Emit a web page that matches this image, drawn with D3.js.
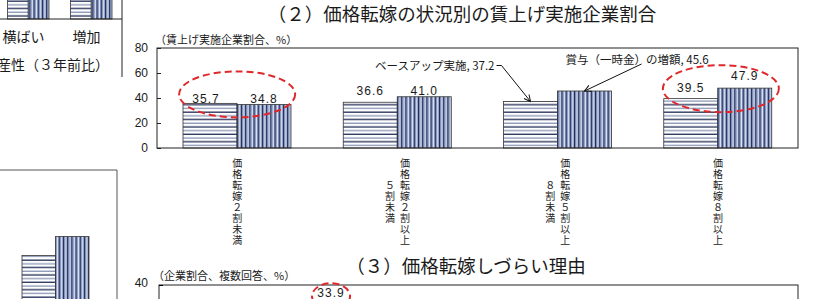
<!DOCTYPE html>
<html lang="ja">
<head>
<meta charset="utf-8">
<title>価格転嫁の状況別の賃上げ実施企業割合</title>
<script src="https://d3js.org/d3.v7.min.js"></script>
<style>
  body { margin: 0; background: #fff; }
  svg { display: block; }
  text { font-family: "Noto Sans CJK JP", sans-serif; fill: #1a1a1a; }
  .num { font-family: "Liberation Sans", Arial, sans-serif; }
</style>
</head>
<body>
<div id="chart"></div>
<script>
// ---- data ----
// main chart (2): price pass-through categories
var categories = ["価格転嫁２割未満", "価格転嫁２割以上５割未満", "価格転嫁５割以上８割未満", "価格転嫁８割以上"];
// how each category label is broken into vertical columns (right column first)
var categoryColumns = [["価格転嫁２割未満"], ["価格転嫁２割以上", "５割未満"], ["価格転嫁５割以上", "８割未満"], ["価格転嫁８割以上"]];
var seriesNames = ["ベースアップ実施", "賞与（一時金）の増額"];
var baseUp = [35.7, 36.6, 37.2, 39.5];
var bonus = [34.8, 41.0, 45.6, 47.9];
var yTicks = [0, 20, 40, 60, 80];

// partial chart at top left (cut off)
var leftTopCats = ["減少", "横ばい", "増加"];
var leftTopA = [24.0, 22.0, 26.0];
var leftTopB = [27.0, 25.0, 30.0];

// partial chart at bottom left (cut off)
var leftBottomA = [21.0];
var leftBottomB = [25.2];

// chart (3): only the top is visible
var reasonTicks = [40];
var reasonSlots = 13;
var reasonValue = 33.9;
var reasonIndex = 3;

var W = 834, H = 299;

var svg = d3.select("#chart").append("svg")
  .attr("width", W)
  .attr("height", H);

// patterns for the two series
var defs = svg.append("defs");
var ph = defs.append("pattern").attr("id", "hstripe")
  .attr("patternUnits", "userSpaceOnUse").attr("width", 8).attr("height", 7.4);
ph.append("rect").attr("width", 8).attr("height", 7.4).attr("fill", "#fff");
ph.append("rect").attr("y", 0.5).attr("width", 8).attr("height", 1.3).attr("fill", "#1f2b55");
ph.append("rect").attr("y", 4.2).attr("width", 8).attr("height", 1.3).attr("fill", "#8a97b6");

var pv = defs.append("pattern").attr("id", "vstripe")
  .attr("patternUnits", "userSpaceOnUse").attr("width", 4.2).attr("height", 8);
pv.append("rect").attr("width", 4.2).attr("height", 8).attr("fill", "#8d9dc6");
pv.append("rect").attr("x", 0).attr("width", 1).attr("height", 8).attr("fill", "#1f2b55");
pv.append("rect").attr("x", 2.4).attr("width", 0.8).attr("height", 8).attr("fill", "#f2f4fa");

var fills = ["url(#hstripe)", "url(#vstripe)"];

defs.append("marker").attr("id", "arrow")
  .attr("viewBox", "0 0 10 10").attr("refX", 9).attr("refY", 5)
  .attr("markerWidth", 8).attr("markerHeight", 8)
  .attr("markerUnits", "userSpaceOnUse")
  .attr("orient", "auto")
  .append("path").attr("d", "M1,1 L9,5 L1,9")
  .attr("fill", "none").attr("stroke", "#111").attr("stroke-width", 1.3);

// ---- main chart (2) ----
var plotL = 157, plotR = 798, plotT = 48, plotB = 148;

var x0 = d3.scaleBand().domain(categories).range([plotL, plotR]);
var x1 = d3.scaleBand().domain(seriesNames).range([26, 134]);
var y = d3.scaleLinear().domain([0, 80]).range([plotB, plotT]);

var rows = categories.map(function(c, i) {
  return { cat: c, vals: [baseUp[i], bonus[i]] };
});

svg.append("text")
  .attr("x", 462).attr("y", 21)
  .attr("text-anchor", "middle")
  .style("font-size", "18.5px")
  .text("（２）価格転嫁の状況別の賃上げ実施企業割合");

svg.append("text")
  .attr("x", 155).attr("y", 44)
  .style("font-size", "11px")
  .text("（賃上げ実施企業割合、%）");

// bars
var groups = svg.selectAll("g.grp")
  .data(rows).enter().append("g")
  .attr("class", "grp")
  .attr("transform", function(d) { return "translate(" + x0(d.cat) + ",0)"; });

groups.selectAll("rect")
  .data(function(d) { return d.vals.map(function(v, j) { return { s: seriesNames[j], v: v, j: j }; }); })
  .enter().append("rect")
  .attr("x", function(d) { return x1(d.s); })
  .attr("y", function(d) { return y(d.v); })
  .attr("width", x1.bandwidth())
  .attr("height", function(d) { return plotB - y(d.v); })
  .attr("fill", function(d) { return fills[d.j]; })
  .attr("stroke", "#333")
  .attr("stroke-width", 0.8);

// frame
svg.append("rect")
  .attr("x", plotL).attr("y", plotT)
  .attr("width", plotR - plotL).attr("height", plotB - plotT)
  .attr("fill", "none").attr("stroke", "#222").attr("stroke-width", 1);

// y axis
var yAxis = svg.append("g")
  .attr("transform", "translate(" + plotL + ",0)")
  .call(d3.axisLeft(y).tickValues(yTicks).tickSizeInner(-4).tickSizeOuter(0).tickPadding(9));
yAxis.select(".domain").remove();
yAxis.selectAll("line").attr("stroke", "#222");
yAxis.selectAll("text")
  .style("font-size", "12px")
  .style("font-family", "'Liberation Sans', Arial, sans-serif")
  .attr("fill", "#1a1a1a");

// data labels (manual lifts/shifts as placed in the original)
var labelLift = [[0, 1.5], [7, 2], null, [6.6, 8]];
var labelShift = [[-4, 0], [0, 0], null, [0, 0]];
rows.forEach(function(d, i) {
  if (!labelLift[i]) return;
  d.vals.forEach(function(v, j) {
    svg.append("text")
      .attr("class", "num")
      .attr("x", x0(d.cat) + x1(seriesNames[j]) + x1.bandwidth() / 2 + labelShift[i][j])
      .attr("y", y(v) - labelLift[i][j])
      .attr("text-anchor", "middle")
      .style("font-size", "12px")
      .style("letter-spacing", "1px")
      .text(v.toFixed(1));
  });
});

// callouts for category 3
var c3 = categories[2];
var tipA = [x0(c3) + x1(seriesNames[0]) + x1.bandwidth() / 2, y(baseUp[2])];
var tipB = [x0(c3) + x1(seriesNames[1]) + x1.bandwidth() / 2, y(bonus[2])];

svg.append("text")
  .attr("x", tipA[0] - 36).attr("y", tipA[1] - 32)
  .attr("text-anchor", "end")
  .style("font-size", "11.5px")
  .text(seriesNames[0] + ", " + baseUp[2].toFixed(1));
svg.append("path")
  .attr("d", "M" + (tipA[0] - 34) + "," + (tipA[1] - 36) + " H" + (tipA[0] - 29) + " L" + tipA[0] + "," + tipA[1])
  .attr("fill", "none").attr("stroke", "#111").attr("stroke-width", 1)
  .attr("marker-end", "url(#arrow)");

svg.append("text")
  .attr("x", tipB[0] - 19).attr("y", tipB[1] - 27)
  .style("font-size", "11.5px")
  .text(seriesNames[1] + ", " + bonus[2].toFixed(1));
svg.append("path")
  .attr("d", "M" + (tipB[0] + 57) + "," + (tipB[1] - 27) + " L" + tipB[0] + "," + tipB[1])
  .attr("fill", "none").attr("stroke", "#111").attr("stroke-width", 1)
  .attr("marker-end", "url(#arrow)");

// vertical category labels
var charStep = 11.1, firstRow = plotB + 14, colGap = 7.5;
categoryColumns.forEach(function(cols, i) {
  var cx = x0(categories[i]) + x0.bandwidth() / 2;
  var n0 = cols[0].length;
  cols.forEach(function(col, k) {
    var colX = cols.length === 1 ? cx : (k === 0 ? cx + colGap : cx - colGap);
    var start = (n0 - col.length) / 2;
    Array.from(col).forEach(function(ch, r) {
      svg.append("text")
        .attr("x", colX)
        .attr("y", firstRow + (start + r) * charStep)
        .attr("text-anchor", "middle")
        .attr("dominant-baseline", "central")
        .style("font-size", "10px")
        .text(ch);
    });
  });
});

// red dashed ellipses
var ellipses = [
  { cat: 0, dx: 0, dy: -9, rx: 58, ry: 23 },
  { cat: 3, dx: 3, dy: 0.5, rx: 58, ry: 23.5 }
];
ellipses.forEach(function(e) {
  var c = categories[e.cat];
  svg.append("ellipse")
    .attr("cx", x0(c) + x0.bandwidth() / 2 + e.dx)
    .attr("cy", y(Math.max(baseUp[e.cat], bonus[e.cat])) + e.dy)
    .attr("rx", e.rx).attr("ry", e.ry)
    .attr("fill", "none")
    .attr("stroke", "#e0282c").attr("stroke-width", 2)
    .attr("stroke-dasharray", "7,4");
});

// ---- chart (3), top part ----
var l3 = 159, t3 = 285;
var y3 = d3.scaleLinear().domain([0, 40]).range([t3 + 100, t3]);
var xr = d3.scaleBand().domain(d3.range(reasonSlots)).range([l3, plotR]);

svg.append("text")
  .attr("x", 466).attr("y", 273)
  .attr("text-anchor", "middle")
  .style("font-size", "18.5px")
  .text("（３）価格転嫁しづらい理由");

svg.append("text")
  .attr("x", 153).attr("y", 280)
  .style("font-size", "11px")
  .text("（企業割合、複数回答、%）");

svg.append("rect")
  .attr("x", l3).attr("y", t3)
  .attr("width", plotR - l3).attr("height", 120)
  .attr("fill", "none").attr("stroke", "#222").attr("stroke-width", 1);

var y3Axis = svg.append("g")
  .attr("transform", "translate(" + l3 + ",0)")
  .call(d3.axisLeft(y3).tickValues(reasonTicks).tickSizeInner(-4).tickSizeOuter(0).tickPadding(11));
y3Axis.select(".domain").remove();
y3Axis.selectAll("text")
  .style("font-size", "12px")
  .style("font-family", "'Liberation Sans', Arial, sans-serif")
  .attr("fill", "#1a1a1a")
  .attr("dy", "0.15em");

var rx3 = xr(reasonIndex) + xr.bandwidth() / 2;
svg.append("text")
  .attr("class", "num")
  .attr("x", rx3).attr("y", y3(reasonValue) - 3)
  .attr("text-anchor", "middle")
  .style("font-size", "12px")
  .style("letter-spacing", "1px")
  .text(reasonValue.toFixed(1));
svg.append("ellipse")
  .attr("cx", rx3).attr("cy", y3(reasonValue) - 4)
  .attr("rx", 19).attr("ry", 13)
  .attr("fill", "none")
  .attr("stroke", "#e0282c").attr("stroke-width", 2)
  .attr("stroke-dasharray", "7,4");

// ---- partial chart, top left ----
var ltX = d3.scaleBand().domain(leftTopCats).range([-67, 122]);
var ltX1 = d3.scaleBand().domain([0, 1]).range([11.5, 53]);
var ltY = d3.scaleLinear().domain([0, 40]).range([19, -161]);

leftTopCats.forEach(function(c, i) {
  [leftTopA[i], leftTopB[i]].forEach(function(v, j) {
    svg.append("rect")
      .attr("x", ltX(c) + ltX1(j))
      .attr("y", ltY(v))
      .attr("width", ltX1.bandwidth())
      .attr("height", ltY(0) - ltY(v))
      .attr("fill", fills[j])
      .attr("stroke", "#333").attr("stroke-width", 0.8);
  });
  var lx = ltX(c) + ltX.bandwidth() / 2 - 4;
  // the first category's label lies outside the visible area
  if (lx < 0) return;
  svg.append("text")
    .attr("x", lx)
    .attr("y", 42)
    .attr("text-anchor", "middle")
    .style("font-size", "14px")
    .text(c);
});
svg.append("line")
  .attr("x1", 0).attr("x2", 122).attr("y1", ltY(0)).attr("y2", ltY(0))
  .attr("stroke", "#222");
svg.append("line")
  .attr("x1", 122).attr("x2", 122).attr("y1", 0).attr("y2", 77)
  .attr("stroke", "#222");
svg.append("text")
  .attr("x", 109).attr("y", 70)
  .attr("text-anchor", "end")
  .style("font-size", "14px")
  .text("労働生産性（３年前比）");

// ---- partial chart, bottom left ----
var lbX1 = d3.scaleBand().domain([0, 1]).range([22, 89]);
var lbY = d3.scaleLinear().domain([0, 40]).range([350, 170]);
[leftBottomA[0], leftBottomB[0]].forEach(function(v, j) {
  svg.append("rect")
    .attr("x", lbX1(j))
    .attr("y", lbY(v))
    .attr("width", lbX1.bandwidth())
    .attr("height", lbY(0) - lbY(v))
    .attr("fill", fills[j])
    .attr("stroke", "#333").attr("stroke-width", 0.8);
});
svg.append("path")
  .attr("d", "M0," + lbY(40) + " H117 V" + H)
  .attr("fill", "none").attr("stroke", "#555").attr("stroke-width", 1);
</script>
</body>
</html>
